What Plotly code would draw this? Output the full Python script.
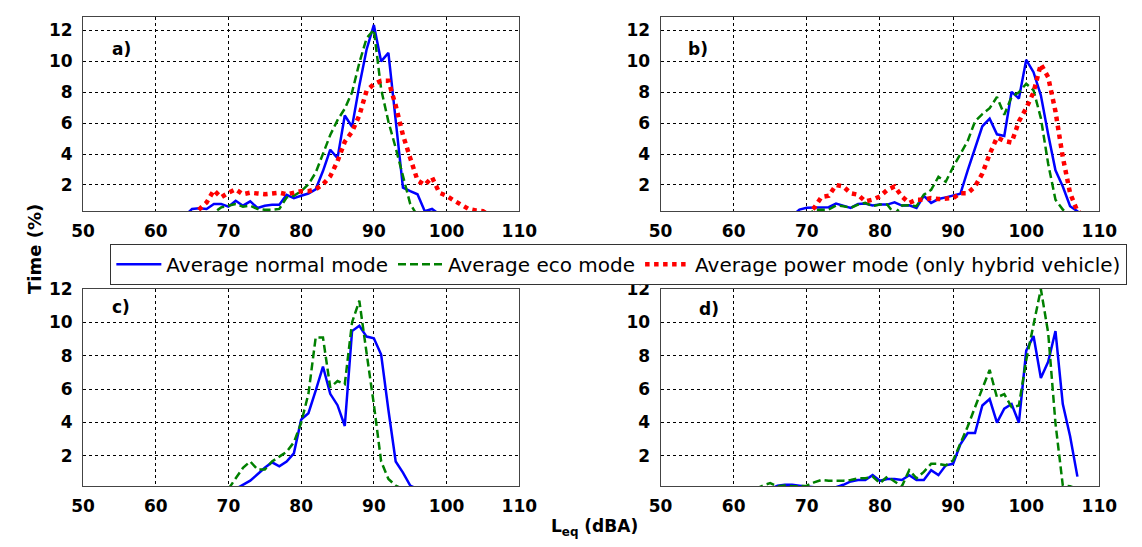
import plotly.graph_objects as go

# ---------------- data (L_eq in dBA, time in %) ----------------
# Panel a
a_normal_x = list(range(64, 101))
a_normal_y = [0, 0.45, 0.5, 0.45, 0.77, 0.77, 0.6, 0.98, 0.66, 0.94, 0.51, 0.66, 0.72, 0.72,
              1.36, 1.15, 1.3, 1.45, 1.72, 2.9, 4.28, 3.74, 6.5, 5.77, 8.43, 10.77, 12.36,
              10.0, 10.55, 6.3, 1.83, 1.6, 1.4, 0.3, 0.45, 0.1, 0]
a_eco_x = list(range(67, 97))
a_eco_y = [0, 0.2, 0.55, 0.66, 0.77, 0.6, 0.66, 0.45, 0.4, 0.4, 0.45, 1.19, 1.3, 1.6, 2.04,
           2.8, 3.96, 5.23, 6.2, 6.94, 8.0, 9.9, 11.5, 12.04, 8.2, 6.1, 4.4, 2.5, 0.77, 0]
a_power_x = list(range(65, 107))
a_power_y = [0, 0.45, 0.87, 1.66, 1.2, 1.5, 1.72, 1.4, 1.5, 1.45, 1.4, 1.45, 1.5, 1.4, 1.5,
             1.6, 1.6, 1.72, 2.04, 2.57, 3.53, 4.8, 5.45, 6.5, 8.1, 8.53, 8.74, 8.74, 7.15,
             5.23, 3.74, 2.3, 2.0, 2.5, 1.5, 1.3, 1.0, 0.7, 0.45, 0.35, 0.3, 0]
# Panel b
b_normal_x = list(range(68, 109))
b_normal_y = [0, 0.41, 0.52, 0.52, 0.56, 0.56, 0.8, 0.67, 0.52, 0.77, 0.8, 0.67, 0.73, 0.73,
              0.88, 0.67, 0.69, 0.52, 1.3, 0.84, 1.09, 1.2, 1.3, 1.43, 2.95, 4.43, 5.8, 6.29,
              5.28, 5.17, 8.03, 7.6, 10.1, 9.3, 7.8, 5.28, 2.95, 1.9, 0.63, 0.3, 0]
b_eco_x = list(range(70, 107))
b_eco_y = [0, 0.37, 0.4, 0.41, 0.67, 0.63, 0.52, 0.73, 0.84, 0.63, 0.73, 0.73, 0.1, 0.67,
           0.69, 0.63, 1.37, 1.68, 2.53, 2.21, 3.16, 4.0, 4.85, 6.12, 6.59, 6.97, 7.7, 6.55,
           7.7, 8.0, 8.55, 8.13, 6.33, 3.37, 1.05, 0.41, 0]
b_power_x = list(range(70, 109))
b_power_y = [0, 0.52, 1.22, 1.3, 2.0, 1.9, 1.47, 1.37, 0.94, 1.05, 1.26, 1.68, 1.9, 1.26,
             0.84, 1.05, 1.05, 1.15, 1.09, 1.15, 1.15, 1.47, 1.47, 1.9, 2.74, 4.0, 5.07, 4.85,
             4.75, 6.12, 6.97, 8.0, 9.82, 8.98, 6.76, 3.8, 1.47, 0.3, 0]
# Panel c
c_normal_x = list(range(71, 97))
c_normal_y = [0, 0.26, 0.5, 0.88, 1.27, 1.6, 1.36, 1.65, 2.14, 4.16, 4.55, 5.9, 7.35, 5.71,
              5.03, 3.78, 9.48, 9.8, 9.15, 9.05, 8.07, 4.74, 1.65, 0.98, 0.2, 0]
c_eco_x = list(range(70, 95))
c_eco_y = [0, 0.6, 1.27, 1.65, 1.17, 1.17, 1.65, 1.94, 2.23, 2.8, 3.97, 5.71, 9.1, 9.1, 6.1,
           6.48, 6.29, 10.0, 11.3, 8.16, 5.07, 1.65, 0.6, 0.2, 0]
# Panel d
d_normal_x = list(range(65, 108))
d_normal_y = [0, 0.2, 0.25, 0.25, 0.2, 0.15, 0.1, 0.1, 0.1, 0.1, 0.25, 0.45, 0.54, 0.54,
              0.83, 0.49, 0.6, 0.6, 0.54, 0.83, 0.54, 0.54, 1.13, 0.83, 1.42, 1.51, 2.68,
              3.36, 3.36, 5.01, 5.4, 3.98, 4.82, 5.1, 3.98, 8.31, 9.18, 6.66, 7.63, 9.48,
              5.1, 3.17, 0.74]
d_eco_x = list(range(63, 108))
d_eco_y = [0, 0.21, 0.35, 0.16, 0.21, 0.16, 0.16, 0.2, 0.4, 0.54, 0.5, 0.48, 0.5, 0.54, 0.64,
           0.64, 0.74, 0.35, 0.74, 0.45, 0.16, 1.13, 0.64, 1.03, 1.51, 1.51, 1.42, 1.71,
           2.68, 3.75, 4.91, 6.08, 7.15, 5.5, 5.69, 4.91, 5.01, 7.73, 9.86, 12.0, 9.38,
           3.94, 0.21, 0.16, 0]

series_names = ["Average normal mode", "Average eco mode",
                "Average power mode (only hybrid vehicle)"]
panel_labels = ["a)", "b)", "c)", "d)"]
x_ticks = [50, 60, 70, 80, 90, 100, 110]
y_ticks = [2, 4, 6, 8, 10, 12]

# ---------------- layout geometry (pixels) ----------------
W, H = 1142, 547
cols_px = [(72.9, 521.0), (666.0, 1116.7)]
rows_px = [(6.7, 205.0), (284.3, 485.0)]   # top, bottom in px from top
row_yrange = [[0.3, 12.9], [0.17, 12.0]]

def xd(p):
    return p / W

def yd(p):
    return 1 - p / H

styles = {
    "normal": dict(color="#0000FF", width=2.5, dash="solid"),
    "eco": dict(color="#008000", width=2.5, dash="8px,4px"),
    "power": dict(color="#FF0000", width=4.5, dash="4.5px,4.5px"),
}

panels = [
    [("normal", a_normal_x, a_normal_y), ("eco", a_eco_x, a_eco_y), ("power", a_power_x, a_power_y)],
    [("normal", b_normal_x, b_normal_y), ("eco", b_eco_x, b_eco_y), ("power", b_power_x, b_power_y)],
    [("normal", c_normal_x, c_normal_y), ("eco", c_eco_x, c_eco_y)],
    [("normal", d_normal_x, d_normal_y), ("eco", d_eco_x, d_eco_y)],
]
name_of = {"normal": series_names[0], "eco": series_names[1], "power": series_names[2]}

fig = go.Figure()
layout = {}
shown = set()
for i, traces in enumerate(panels):
    r, c = divmod(i, 2)
    ax = "" if i == 0 else str(i + 1)
    for key, xs, ys in traces:
        fig.add_trace(go.Scatter(
            x=xs, y=ys, mode="lines", name=name_of[key],
            line=styles[key], xaxis="x" + ax, yaxis="y" + ax,
            showlegend=key not in shown, legendrank={"normal": 1, "eco": 2, "power": 3}[key],
            hoverinfo="skip"))
        shown.add(key)
    common = dict(showline=True, mirror=True, linecolor="#444", linewidth=1,
                  showgrid=True, gridcolor="black", griddash="dot", gridwidth=1,
                  zeroline=False, ticks="",
                  tickfont=dict(family="DejaVu Sans", size=17, color="black", weight="bold"))
    layout["xaxis" + ax] = dict(common, domain=[xd(cols_px[c][0]), xd(cols_px[c][1])],
                                range=[50, 110], tickvals=x_ticks, anchor="y" + ax,
                                ticklabelstandoff=4)
    layout["yaxis" + ax] = dict(common, domain=[yd(rows_px[r][1]), yd(rows_px[r][0])],
                                range=row_yrange[r], tickvals=y_ticks, anchor="x" + ax,
                                ticklabelstandoff=6)

label_pos = [(112, 40), (705, 40), (112, 303), (716, 305)]
annotations = []
for lab, (px, py) in zip(panel_labels, label_pos):
    annotations.append(dict(text=lab, x=xd(px), y=yd(py), xref="paper", yref="paper",
                            showarrow=False, xanchor="center", yanchor="middle",
                            font=dict(family="DejaVu Sans", size=17, color="black", weight="bold")))
annotations.append(dict(text="Time (%)", x=xd(23), y=yd(243), xref="paper", yref="paper",
                        showarrow=False, textangle=-90, xanchor="center", yanchor="middle",
                        font=dict(family="DejaVu Sans", size=18, color="black", weight="bold")))
annotations.append(dict(text="L<sub>eq</sub> (dBA)", x=xd(598), y=yd(527), xref="paper",
                        yref="paper", showarrow=False, xanchor="center", yanchor="middle",
                        font=dict(family="DejaVu Sans", size=17, color="black", weight="bold")))

fig.update_layout(
    width=W, height=H, margin=dict(l=0, r=0, t=0, b=0),
    paper_bgcolor="white", plot_bgcolor="white",
    showlegend=True,
    legend=dict(orientation="h", x=xd(101), y=yd(238), xanchor="left", yanchor="top",
                bordercolor="#333", borderwidth=1, bgcolor="white",
                font=dict(family="DejaVu Sans", size=20, color="black"),
                itemwidth=45, tracegroupgap=0),
    annotations=annotations,
    **layout,
)

fig.write_html("out.html", config={"displayModeBar": False},
               post_script="document.body.style.margin='0px';")
